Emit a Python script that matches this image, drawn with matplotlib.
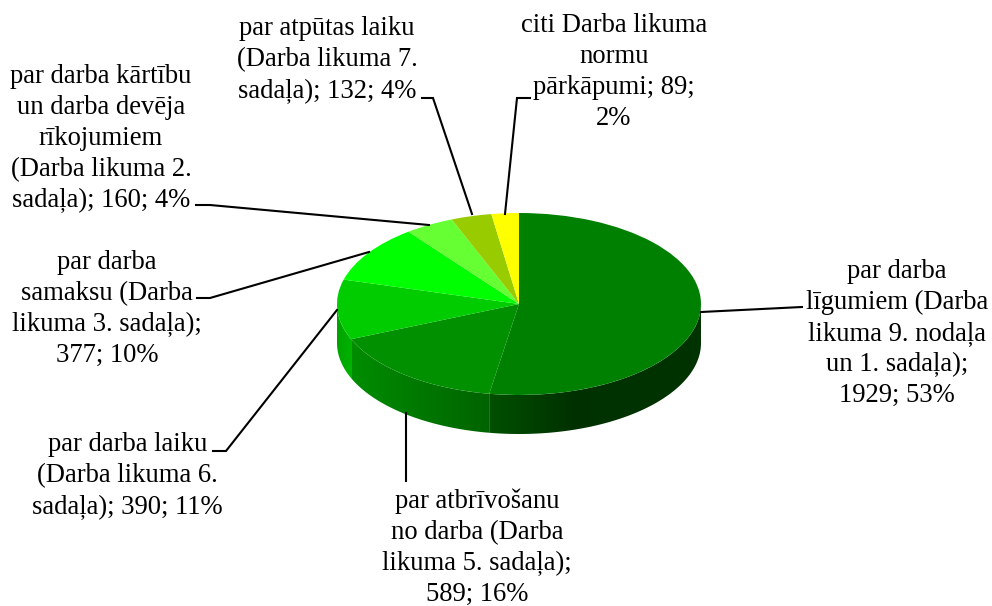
import numpy as np
from matplotlib import pyplot as plt
from matplotlib.colors import to_rgb
from matplotlib.patches import Polygon

plt.rcParams['font.family'] = ['Liberation Serif', 'DejaVu Serif']

categories = [
    'par darba\nlīgumiem (Darba\nlikuma 9. nodaļa\nun 1. sadaļa);\n1929; 53%',
    'par atbrīvošanu\nno darba (Darba\nlikuma 5. sadaļa);\n589; 16%',
    'par darba laiku\n(Darba likuma 6.\nsadaļa); 390; 11%',
    'par darba\nsamaksu (Darba\nlikuma 3. sadaļa);\n377; 10%',
    'par darba kārtību\nun darba devēja\nrīkojumiem\n(Darba likuma 2.\nsadaļa); 160; 4%',
    'par atpūtas laiku\n(Darba likuma 7.\nsadaļa); 132; 4%',
    'citi Darba likuma\nnormu\npārkāpumi; 89;\n2%',
]
values = [1929, 589, 390, 377, 160, 132, 89]
top_colors = ['#008000', '#009000', '#00cc00', '#00ff00', '#66ff33', '#99cc00', '#ffff00']
wall_colors = ['#008000', '#00a000', '#00cc00', '#00ff00', '#66ff33', '#99cc00', '#ffff00']

# label centres and leader lines, in image pixels
label_pos = [(897, 333.5), (477, 548), (127.5, 476), (107, 309), (101, 138.5), (327, 60), (614, 72)]
leaders = [
    [(701, 312), (802, 307)],
    [(406, 413), (406, 481)],
    [(337, 310), (226, 451), (213, 451)],
    [(369, 252), (210, 298), (197, 298)],
    [(429, 225), (210, 205), (196, 205)],
    [(472, 214), (433, 98), (422, 98)],
    [(505, 214), (517, 98), (530, 98)],
]

W, H = 992, 606
CX, CY, RX, DEPTH = 519, 304, 182, 39


def py(y):
    # y data is stretched 2x so a round pie comes out as a flat ellipse
    return 2 * (H - y)


def wall_shade(u):
    return np.interp(u, [-1, -0.92, -0.16, 0.3, 1], [0.8, 0.88, 0.62, 0.38, 0.4])


def draw_walls(ax):
    fracs = np.cumsum([0] + values) / sum(values) * 360
    for i, color in enumerate(wall_colors):
        # only the front half of the rim shows, 90..270 deg clockwise from top
        start, stop = max(fracs[i], 90), min(fracs[i + 1], 270)
        if stop <= start:
            continue
        th = np.radians(np.linspace(start, stop, 120))
        xs = CX + RX * np.sin(th)
        top = py(CY) + RX * np.cos(th)
        outline = np.r_[np.c_[xs, top], np.c_[xs, top - 2 * DEPTH][::-1]]

        x0, x1 = xs.min(), xs.max()
        cols = np.linspace(x0, x1, max(int(x1 - x0), 2))
        strip = np.array(to_rgb(color))[None, :] * wall_shade((cols - CX) / RX)[:, None]
        im = ax.imshow(strip[None, :, :], extent=(x0, x1, top.min() - 2 * DEPTH, top.max()),
                       aspect='auto', interpolation='bilinear', zorder=0)
        patch = Polygon(outline, closed=True, transform=ax.transData)
        im.set_clip_path(patch)


def main():
    fig = plt.figure(figsize=(W / 100, H / 100), dpi=100)
    ax = fig.add_axes([0, 0, 1, 1])

    draw_walls(ax)
    ax.pie(values, colors=top_colors, startangle=90, counterclock=False,
           radius=RX, center=(CX, py(CY)), frame=False)
    ax.set_aspect('auto')
    ax.set_xlim(0, W)
    ax.set_ylim(0, 2 * H)
    ax.axis('off')

    for pts in leaders:
        ax.plot([p[0] for p in pts], [py(p[1]) for p in pts], color='black', lw=1.5,
                solid_joinstyle='miter', clip_on=False)
    for text, (x, y) in zip(categories, label_pos):
        ax.text(x, py(y), text, ha='center', va='center', fontsize=19.2,
                linespacing=1.316, color='black')

    fig.savefig('out.png', dpi=100)


if __name__ == '__main__':
    main()
